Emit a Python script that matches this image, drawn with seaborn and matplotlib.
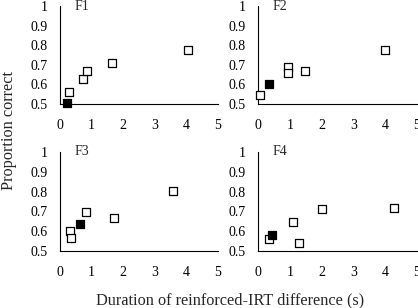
import matplotlib
matplotlib.use("Agg")
import matplotlib.pyplot as plt
import seaborn as sns
import pandas as pd

sns.set_theme(style="white")
plt.rcParams['font.family'] = ['Liberation Serif', 'DejaVu Serif']

panels = ["F1", "F2", "F3", "F4"]
open_x = {
    "F1": [0.28, 0.73, 0.84, 1.65, 4.05],
    "F2": [0.07, 0.93, 0.93, 1.47, 4.0],
    "F3": [0.32, 0.35, 0.82, 1.71, 3.58],
    "F4": [0.34, 1.09, 1.29, 2.01, 4.29],
}
open_y = {
    "F1": [0.562, 0.627, 0.667, 0.708, 0.773],
    "F2": [0.547, 0.689, 0.659, 0.667, 0.774],
    "F3": [0.601, 0.564, 0.698, 0.669, 0.801],
    "F4": [0.560, 0.646, 0.542, 0.713, 0.716],
}
filled_x = {"F1": [0.23], "F2": [0.35], "F3": [0.64], "F4": [0.43]}
filled_y = {"F1": [0.505], "F2": [0.604], "F3": [0.637], "F4": [0.582]}

xticks = [0, 1, 2, 3, 4, 5]
yticks = [0.5, 0.6, 0.7, 0.8, 0.9, 1.0]
ytick_labels = ["0.5", "0.6", "0.7", "0.8", "0.9", "1"]

fig = plt.figure(figsize=(4.18, 3.08), dpi=100)
W, H = 418, 308
boxes = {
    "F1": (60, 6, 158, 98),
    "F2": (258, 6, 159, 98),
    "F3": (60, 152, 158, 99),
    "F4": (258, 152, 159, 99),
}
fs = 10
for p in panels:
    l, t, w, h = boxes[p]
    ax = fig.add_axes([l / W, 1 - (t + h) / H, w / W, h / H])
    ax.set_facecolor("none")
    df_o = pd.DataFrame({"x": open_x[p], "y": open_y[p]})
    df_f = pd.DataFrame({"x": filled_x[p], "y": filled_y[p]})
    sns.scatterplot(data=df_o, x="x", y="y", ax=ax, marker="s", s=36,
                    facecolor="white", edgecolor="black", linewidth=0.9, zorder=3, clip_on=False)
    sns.scatterplot(data=df_f, x="x", y="y", ax=ax, marker="s", s=40,
                    color="black", edgecolor="black", linewidth=0.9, zorder=4, clip_on=False)
    ax.set_xlim(0, 5)
    ax.set_ylim(0.5, 1.0)
    ax.set_xticks(xticks)
    ax.set_xticklabels([str(v) for v in xticks], fontsize=fs)
    ax.set_yticks(yticks)
    ax.set_yticklabels(ytick_labels, fontsize=fs)
    for s in ["top", "right"]:
        ax.spines[s].set_visible(False)
    for s in ["left", "bottom"]:
        ax.spines[s].set_color("black")
        ax.spines[s].set_linewidth(0.8)
    ax.tick_params(axis="x", direction="in", length=3, width=0.8, pad=11, colors="black")
    ax.tick_params(axis="y", direction="out", length=3, width=0.8, pad=6, colors="black")
    ax.set_xlabel("")
    ax.set_ylabel("")
    ax.text(0.47, 1.0, p, fontsize=fs, va="center", ha="left")

fig.text(230 / W, 1 - 300 / H, "Duration of reinforced-IRT difference (s)",
         ha="center", va="center", fontsize=11.7)
fig.text(9 / W, 1 - 130 / H, "Proportion correct", rotation=90,
         ha="center", va="center", fontsize=11.7)
fig.savefig("out.png", dpi=100)
